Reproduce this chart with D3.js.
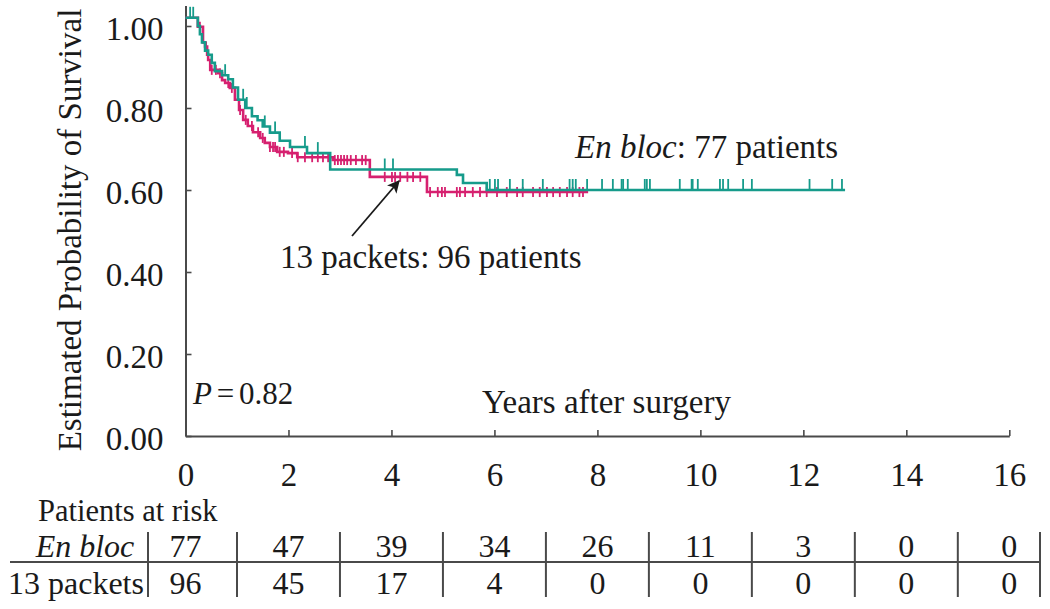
<!DOCTYPE html>
<html>
<head>
<meta charset="utf-8">
<script src="https://cdn.jsdelivr.net/npm/d3@7"></script>
<style>
  html, body { margin: 0; padding: 0; background: #fff; }
  svg { display: block; }
  text { font-family: "Liberation Serif", "DejaVu Serif", serif; fill: #1a1a1a; }
</style>
</head>
<body>
<svg id="chart" width="1050" height="609"></svg>
<script>
// ---------------- data ----------------
const xTickValues = [0, 2, 4, 6, 8, 10, 12, 14, 16];
const yTickValues = [0, 0.2, 0.4, 0.6, 0.8, 1.0];

// En bloc (77 patients) step curve
const enBlocTimes = [0, 0.24, 0.28, 0.32, 0.38, 0.44, 0.51, 0.57, 0.71, 0.83, 0.92, 1.02, 1.16, 1.29, 1.40, 1.50, 1.64, 1.83, 2.03, 2.36, 2.81, 5.27, 5.39, 5.85];
const enBlocSurv  = [1.02, 1.0, 0.98, 0.96, 0.94, 0.93, 0.91, 0.89, 0.88, 0.87, 0.85, 0.82, 0.80, 0.78, 0.77, 0.755, 0.74, 0.72, 0.705, 0.69, 0.65, 0.637, 0.617, 0.60];
const enBlocEnd = 12.81;
const enBlocCensor = [0.09, 0.15, 0.77, 1.12, 1.19, 1.54, 1.74, 2.32, 2.57, 3.87, 4.03, 5.91, 6.01, 6.07, 6.30, 6.55, 6.94, 7.46, 7.52, 7.58, 7.80, 8.09, 8.30, 8.47, 8.50, 8.59, 8.92, 8.96, 9.02, 9.60, 9.83, 9.85, 9.95, 10.38, 10.44, 10.54, 10.83, 11.0, 12.12, 12.56, 12.75];

// 13 packets (96 patients) step curve
const packetsTimes = [0, 0.24, 0.34, 0.38, 0.42, 0.44, 0.48, 0.63, 0.71, 0.77, 0.86, 0.96, 1.04, 1.12, 1.21, 1.31, 1.45, 1.54, 1.64, 1.78, 1.99, 2.17, 2.86, 3.58, 4.69];
const packetsSurv  = [1.02, 0.998, 0.96, 0.95, 0.93, 0.917, 0.893, 0.885, 0.868, 0.861, 0.849, 0.82, 0.795, 0.771, 0.756, 0.741, 0.727, 0.715, 0.705, 0.693, 0.69, 0.68, 0.673, 0.632, 0.595];
const packetsEnd = 7.82;
const packetsCensor = [0.28, 0.40, 0.51, 0.59, 0.67, 0.83, 0.90, 1.06, 1.17, 1.29, 1.41, 1.50, 1.64, 1.70, 1.74, 1.83, 1.91, 2.07, 2.18, 2.32, 2.46, 2.57, 2.67, 2.77, 2.90, 2.96, 3.02, 3.08, 3.14, 3.21, 3.31, 3.43, 3.50, 3.87, 4.01, 4.07, 4.17, 4.31, 4.42, 4.56, 4.75, 4.90, 4.98, 5.04, 5.27, 5.33, 5.43, 5.58, 5.72, 5.85, 6.05, 6.24, 6.44, 6.55, 6.75, 6.88, 7.02, 7.14, 7.27, 7.41, 7.52, 7.65, 7.72];

// risk table
const riskTimes = [0, 2, 4, 6, 8, 10, 12, 14, 16];
const riskGroups = ["En bloc", "13 packets"];
const enBlocRisk = [77, 47, 39, 34, 26, 11, 3, 0, 0];
const packetsRisk = [96, 45, 17, 4, 0, 0, 0, 0, 0];

// ---------------- layout ----------------
const TEAL = "#169b8b";
const MAGENTA = "#d6206f";
const AXIS = "#4a4a4a";
const FS = 33;
const FS_TABLE = 32;

const svg = d3.select("#chart");
const x = d3.scaleLinear().domain([0, 16]).range([185.5, 1009.3]);
const y = d3.scaleLinear().domain([0, 1.05]).range([436, 5.5]);

// axes
const xAxis = d3.axisBottom(x).tickValues(xTickValues).tickSizeInner(-6).tickSizeOuter(0).tickFormat(d => d);
const gx = svg.append("g").attr("transform", `translate(0,${y(0)})`).call(xAxis);
gx.select(".domain").attr("stroke", AXIS).attr("stroke-width", 2);
gx.selectAll(".tick line").attr("stroke", AXIS).attr("stroke-width", 1.6);
gx.selectAll(".tick text").attr("font-size", FS).attr("font-family", "Liberation Serif").attr("fill", "#1a1a1a").attr("dy", 0).attr("y", 50);

const yAxis = d3.axisLeft(y).tickValues(yTickValues).tickSizeInner(-6).tickSizeOuter(0).tickFormat(d3.format(".2f"));
const gy = svg.append("g").attr("transform", `translate(${x(0)},0)`).call(yAxis);
gy.select(".domain").attr("stroke", AXIS).attr("stroke-width", 2);
gy.selectAll(".tick line").attr("stroke", AXIS).attr("stroke-width", 1.6);
gy.selectAll(".tick text").attr("font-size", FS).attr("font-family", "Liberation Serif").attr("fill", "#1a1a1a").attr("x", -22).attr("dy", "0.4em");

// y-axis title
svg.append("text")
  .attr("transform", `translate(81,${230}) rotate(-90)`)
  .attr("text-anchor", "middle")
  .attr("font-size", FS)
  .text("Estimated Probability of Survival");

// step curves
function stepPoints(times, surv, end) {
  const pts = times.map((t, i) => [t, surv[i]]);
  pts.push([end, surv[surv.length - 1]]);
  return pts;
}
function survAt(times, surv, t) {
  const i = d3.bisectRight(times, t) - 1;
  return surv[Math.max(0, i)];
}
const line = d3.line().x(d => x(d[0])).y(d => y(d[1])).curve(d3.curveStepAfter);

// 13 packets
svg.append("path")
  .datum(stepPoints(packetsTimes, packetsSurv, packetsEnd))
  .attr("d", line).attr("fill", "none").attr("stroke", MAGENTA).attr("stroke-width", 2.6);
svg.append("g").selectAll("line").data(packetsCensor).join("line")
  .attr("x1", d => x(d)).attr("x2", d => x(d))
  .attr("y1", d => y(survAt(packetsTimes, packetsSurv, d)) - 5)
  .attr("y2", d => y(survAt(packetsTimes, packetsSurv, d)) + 5)
  .attr("stroke", MAGENTA).attr("stroke-width", 1.8);

// En bloc
svg.append("path")
  .datum(stepPoints(enBlocTimes, enBlocSurv, enBlocEnd))
  .attr("d", line).attr("fill", "none").attr("stroke", TEAL).attr("stroke-width", 2.6);
svg.append("g").selectAll("line").data(enBlocCensor).join("line")
  .attr("x1", d => x(d)).attr("x2", d => x(d))
  .attr("y1", d => y(survAt(enBlocTimes, enBlocSurv, d)) - 11)
  .attr("y2", d => y(survAt(enBlocTimes, enBlocSurv, d)))
  .attr("stroke", TEAL).attr("stroke-width", 1.8);

// annotations
const t1 = svg.append("text").attr("x", 575).attr("y", 158).attr("font-size", FS);
t1.append("tspan").attr("font-style", "italic").text("En bloc");
t1.append("tspan").text(": 77 patients");

svg.append("text").attr("x", 280).attr("y", 268).attr("font-size", FS).text("13 packets: 96 patients");

svg.append("defs").append("marker")
  .attr("id", "ah").attr("viewBox", "0 0 10 10").attr("refX", 9).attr("refY", 5)
  .attr("markerWidth", 7).attr("markerHeight", 7).attr("orient", "auto")
  .append("path").attr("d", "M0,0 L10,5 L0,10 L2.5,5 Z").attr("fill", "#1a1a1a");
svg.append("line").attr("x1", 352).attr("y1", 236).attr("x2", 399).attr("y2", 181)
  .attr("stroke", "#1a1a1a").attr("stroke-width", 1.8).attr("marker-end", "url(#ah)");

const tp = svg.append("text").attr("x", 193).attr("y", 404).attr("font-size", 31).attr("word-spacing", -3);
tp.append("tspan").attr("font-style", "italic").text("P");
tp.append("tspan").text(" = 0.82");

svg.append("text").attr("x", 482).attr("y", 413).attr("font-size", FS).text("Years after surgery");

// risk table
svg.append("text").attr("x", 38).attr("y", 521).attr("font-size", 30.5).text("Patients at risk");

const rowY = [556.5, 594];
const tableLeft = 10, tableRight = 1040;
const sepX = [148].concat(riskTimes.slice(0, -1).map((t, i) => (x(t) + x(riskTimes[i + 1])) / 2)).concat([tableRight]);

svg.append("line").attr("x1", tableLeft).attr("x2", tableRight).attr("y1", 562).attr("y2", 562)
  .attr("stroke", AXIS).attr("stroke-width", 2.2);
svg.append("g").selectAll("line").data(sepX).join("line")
  .attr("x1", d => d).attr("x2", d => d).attr("y1", 532).attr("y2", 597)
  .attr("stroke", AXIS).attr("stroke-width", 2);

svg.append("text").attr("x", 85).attr("y", rowY[0]).attr("text-anchor", "middle")
  .attr("font-size", FS_TABLE).attr("font-style", "italic").text(riskGroups[0]);
svg.append("text").attr("x", 8).attr("y", rowY[1]).attr("font-size", FS_TABLE).text(riskGroups[1]);

[enBlocRisk, packetsRisk].forEach((vals, r) => {
  svg.append("g").selectAll("text").data(vals).join("text")
    .attr("x", (d, i) => x(riskTimes[i])).attr("y", rowY[r])
    .attr("text-anchor", "middle").attr("font-size", FS_TABLE).text(d => d);
});
</script>
</body>
</html>
